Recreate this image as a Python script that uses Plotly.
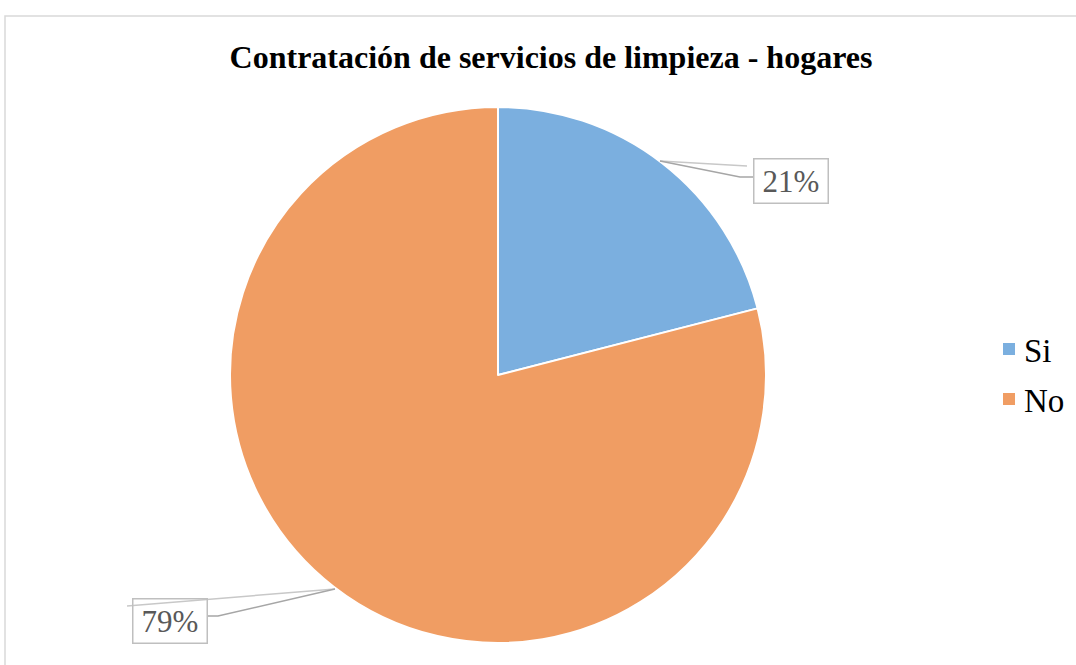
import plotly.graph_objects as go

categories = ["Si", "No"]
values = [21, 79]
colors = ["#7bafdf", "#f09d63"]

W, H = 1076, 665

def px(x):
    return x / W

def py(y):
    return (H - y) / H

# pie geometry (pixels)
cx, cy, r = 498, 375, 268

fig = go.Figure()
fig.add_trace(go.Pie(
    labels=categories,
    values=values,
    sort=False,
    direction="clockwise",
    rotation=0,
    textinfo="none",
    marker=dict(colors=colors, line=dict(color="white", width=2)),
    domain=dict(x=[px(cx - r), px(cx + r)], y=[py(cy + r), py(cy - r)]),
    hoverinfo="label+percent",
    showlegend=False,
))

total = sum(values)
pct = [f"{round(v / total * 100)}%" for v in values]

serif = "Liberation Serif, Times New Roman, serif"
label_font = dict(family=serif, size=31, color="#595959")
label_pos = [(790.5, 180.5), (170, 620.5)]
annotations = []
for text, (lx, ly) in zip(pct, label_pos):
    annotations.append(dict(
        x=px(lx), y=py(ly), xref="paper", yref="paper",
        text=text, showarrow=False, font=label_font,
        bordercolor="#bfbfbf", borderwidth=1.5, borderpad=0,
        width=73, height=43, xanchor="center", yanchor="middle",
    ))

line_style = dict(color="#a6a6a6", width=1.5)
shapes = [
    # outer frame
    dict(type="rect", xref="paper", yref="paper",
         x0=px(5), x1=px(1090), y0=py(680), y1=py(16),
         line=dict(color="#d9d9d9", width=1.5), fillcolor="rgba(0,0,0,0)", layer="below"),
    # leader lines 21%
    dict(type="line", xref="paper", yref="paper", x0=px(660), y0=py(161), x1=px(747), y1=py(166),
         line=dict(color="#c8c8c8", width=1.5)),
    dict(type="path", xref="paper", yref="paper",
         path=f"M {px(660)},{py(161)} L {px(740)},{py(177)} L {px(753)},{py(177)}",
         line=line_style),
    # leader lines 79%
    dict(type="line", xref="paper", yref="paper", x0=px(335), y0=py(589), x1=px(127), y1=py(606),
         line=dict(color="#c8c8c8", width=1.5)),
    dict(type="path", xref="paper", yref="paper",
         path=f"M {px(335)},{py(589)} L {px(218)},{py(616)} L {px(207)},{py(616)}",
         line=line_style),
]

# legend drawn manually (markers + labels)
legend_x, legend_y0, legend_step, sw = 1003, 349, 50, 12
for i, (cat, col) in enumerate(zip(categories, colors)):
    yc = legend_y0 + i * legend_step
    shapes.append(dict(type="rect", xref="paper", yref="paper",
                       x0=px(legend_x), x1=px(legend_x + sw),
                       y0=py(yc + sw / 2), y1=py(yc - sw / 2),
                       fillcolor=col, line=dict(width=0)))
    annotations.append(dict(
        x=px(legend_x + 19), y=py(yc + 2), xref="paper", yref="paper",
        text=cat, showarrow=False, xanchor="left", yanchor="middle",
        font=dict(family=serif, size=33, color="black"),
    ))

fig.update_layout(
    width=W, height=H,
    margin=dict(l=0, r=0, t=0, b=0),
    paper_bgcolor="white",
    plot_bgcolor="white",
    showlegend=False,
    title=dict(
        text="<b>Contratación de servicios de limpieza - hogares</b>",
        x=px(551), xanchor="center", y=py(57), yanchor="middle",
        font=dict(family=serif, size=32, color="black"),
    ),
    annotations=annotations,
    shapes=shapes,
)

fig.write_html("out.html", config={"displayModeBar": False},
               post_script="document.body.style.margin='0';")
